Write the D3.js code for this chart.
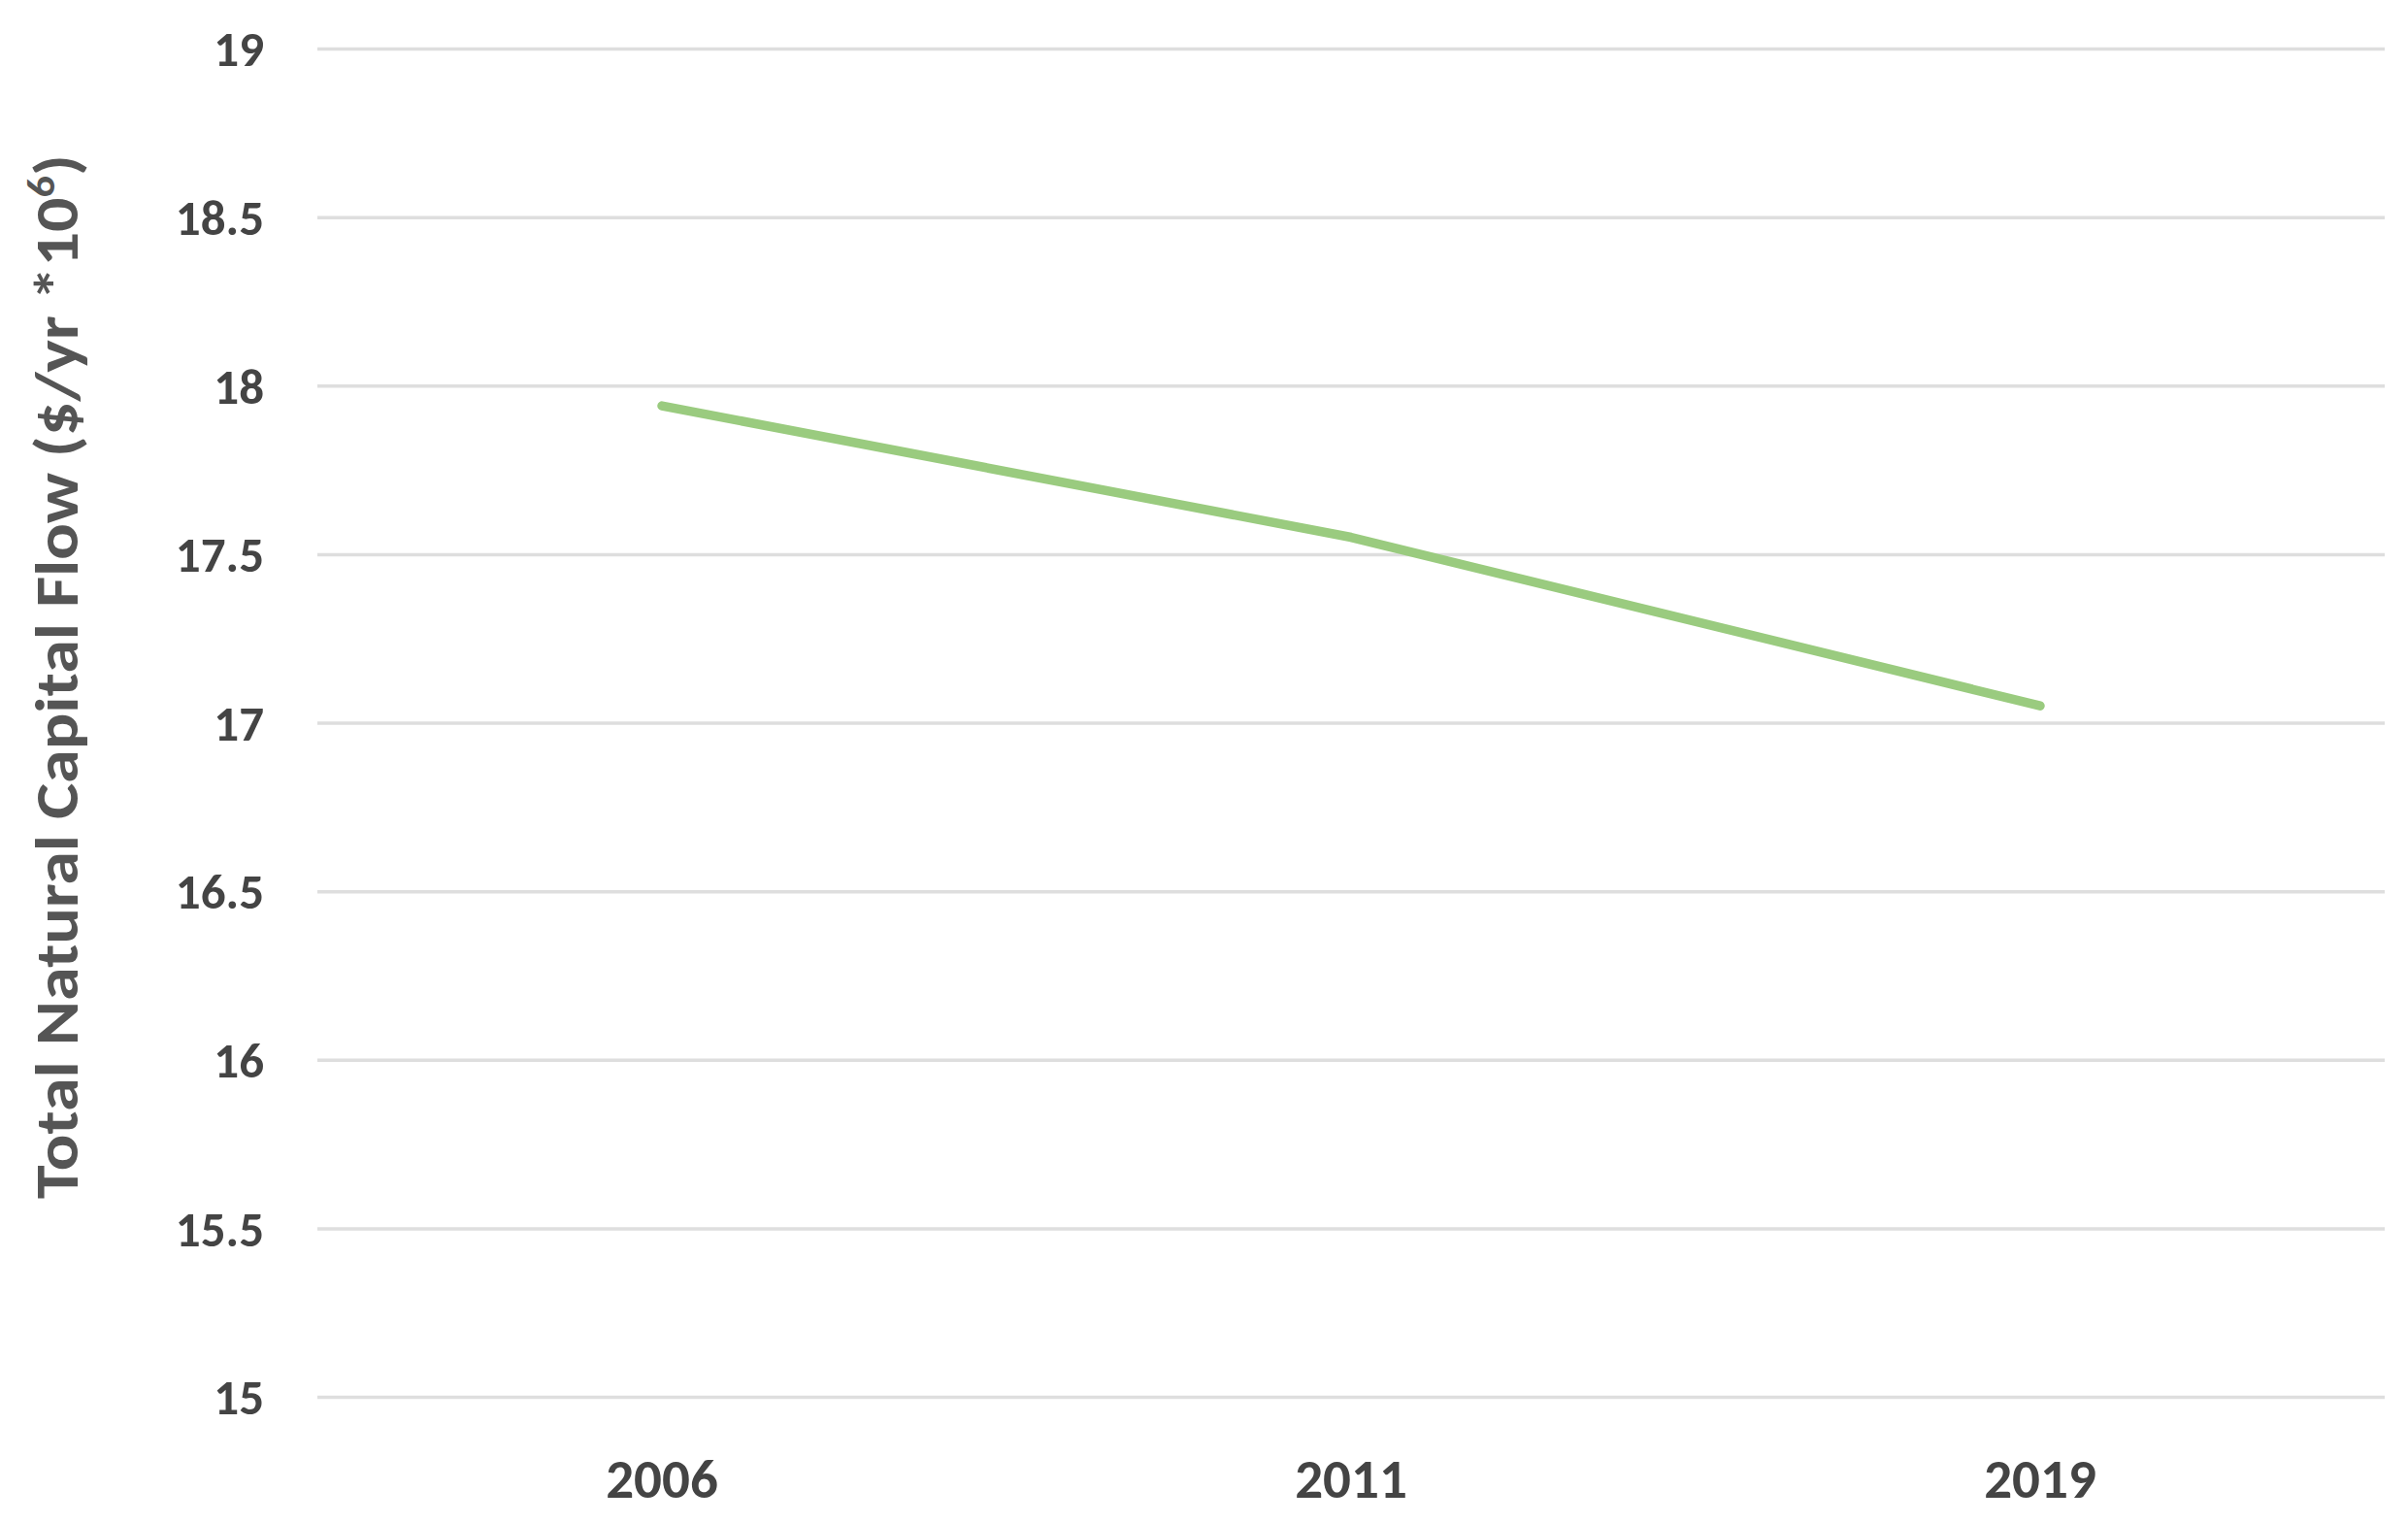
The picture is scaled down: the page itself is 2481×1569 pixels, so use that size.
<!DOCTYPE html>
<html>
<head>
<meta charset="utf-8">
<script src="https://cdn.jsdelivr.net/npm/d3@7"></script>
<style>
  html, body { margin: 0; padding: 0; background: #ffffff; }
  svg { display: block; }
</style>
</head>
<body>
<svg id="chart" width="2481" height="1569"></svg>
<script>
// ---- data ----
const years = ["2006", "2011", "2019"];
const flowValues = [17.94, 17.55, 17.05];
const yTicks = [15, 15.5, 16, 16.5, 17, 17.5, 18, 18.5, 19];
const yTitleMain = "Total Natural Capital Flow ($/yr *10";
const yTitleSup = "6";
const yTitleEnd = ")";

// ---- layout ----
const W = 2481, H = 1569;
const margin = { left: 327, right: 24, top: 50, bottom: 130 };
const svg = d3.select("#chart");

const x = d3.scaleBand()
  .domain(years)
  .range([margin.left, W - margin.right])
  .paddingInner(0).paddingOuter(0);

const y = d3.scaleLinear()
  .domain([15, 19])
  .range([H - margin.bottom, margin.top]);

const tickFont = "'Carlito', 'Open Sans', sans-serif";

// gridlines + y labels
const yAxis = d3.axisLeft(y)
  .tickValues(yTicks)
  .tickSize(-(W - margin.right - margin.left))
  .tickPadding(55)
  .tickFormat(d3.format("~g"));

const gy = svg.append("g")
  .attr("transform", `translate(${margin.left},0)`)
  .call(yAxis);
gy.select(".domain").remove();
gy.selectAll(".tick line")
  .attr("stroke", "#dedede")
  .attr("stroke-width", 3.5);
gy.selectAll(".tick text")
  .attr("fill", "#444444")
  .attr("font-family", tickFont)
  .attr("font-weight", 700)
  .attr("font-size", 51)
  .attr("dy", "0.35em");

// x labels
const xAxis = d3.axisBottom(x).tickSize(0).tickPadding(0);
const gx = svg.append("g")
  .attr("transform", `translate(0,${H - margin.bottom})`)
  .call(xAxis);
gx.select(".domain").remove();
gx.selectAll(".tick text")
  .attr("fill", "#444444")
  .attr("font-family", tickFont)
  .attr("font-weight", 700)
  .attr("font-size", 57)
  .attr("dy", null)
  .attr("y", 104);

// line
const data = years.map((yr, i) => ({ yr, v: flowValues[i] }));
const line = d3.line()
  .x(d => x(d.yr) + x.bandwidth() / 2)
  .y(d => y(d.v));

svg.append("path")
  .datum(data)
  .attr("d", line)
  .attr("fill", "none")
  .attr("stroke", "#9acb7f")
  .attr("stroke-width", 9.5)
  .attr("stroke-linecap", "round")
  .attr("stroke-linejoin", "round");

// y title
const title = svg.append("text")
  .attr("transform", `translate(80,697) rotate(-90)`)
  .attr("text-anchor", "middle")
  .attr("fill", "#555555")
  .attr("font-family", tickFont)
  .attr("font-weight", 600)
  .attr("font-size", 63)
  .attr("textLength", 1076)
  .attr("lengthAdjust", "spacingAndGlyphs");
title.append("tspan").text(yTitleMain);
title.append("tspan").attr("font-size", 40).attr("dy", -24).text(yTitleSup);
title.append("tspan").attr("dy", 24).text(yTitleEnd);
</script>
</body>
</html>
